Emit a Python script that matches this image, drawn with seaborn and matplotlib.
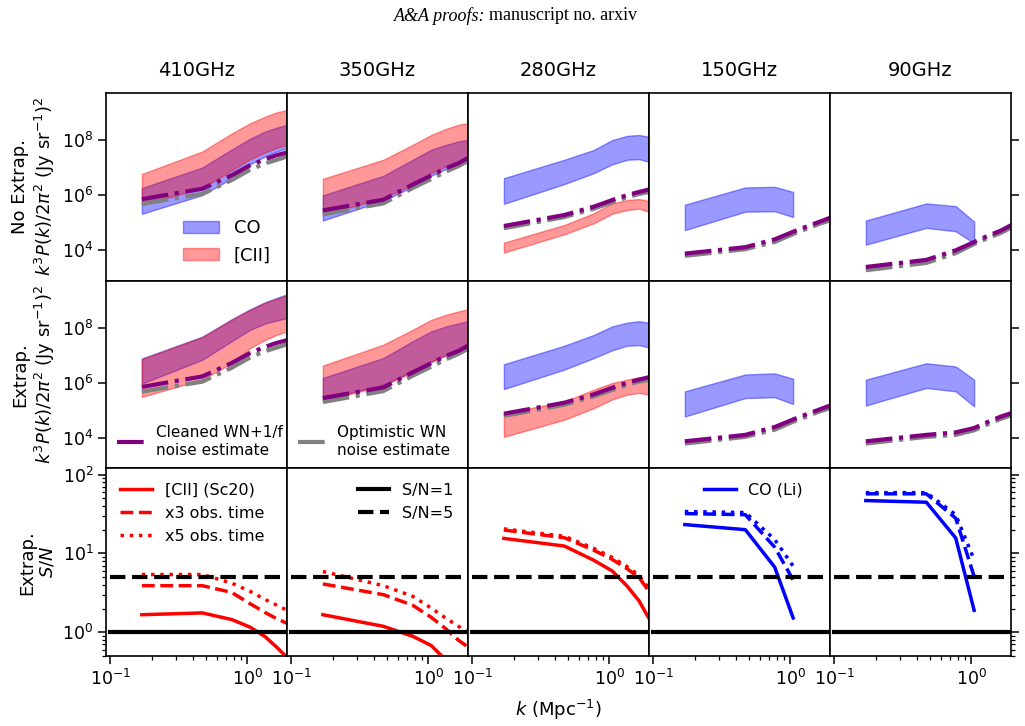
import numpy as np
import matplotlib.pyplot as plt
import seaborn as sns

# k bins (Mpc^-1)
k = [0.17, 0.47, 0.77, 1.05, 1.35, 1.65, 1.95]
freqs = ['410GHz', '350GHz', '280GHz', '150GHz', '90GHz']

# ---- No Extrap. : k^3 P(k)/2pi^2 bands (lo, hi) ----
co_lo_noext = [
    [2.1e5, 1.0e6, 4.0e6, 1.3e7, 2.5e7, 3.8e7, 5.0e7],
    [1.2e5, 6.3e5, 2.0e6, 5.0e6, 8.9e6, 1.3e7, 1.7e7],
    [4.8e5, 2.5e6, 6.2e6, 1.3e7, 1.9e7, 2.0e7, 1.6e7],
    [5.4e4, 2.5e5, 2.6e5, 1.6e5],
    [1.6e4, 6.5e4, 4.9e4, 1.8e4],
]
co_hi_noext = [
    [1.8e6, 1.0e7, 4.5e7, 1.1e8, 2.0e8, 2.8e8, 3.5e8],
    [9.8e5, 5.0e6, 1.9e7, 4.4e7, 6.6e7, 8.7e7, 1.0e8],
    [4.1e6, 1.9e7, 4.3e7, 9.8e7, 1.4e8, 1.5e8, 1.3e8],
    [4.5e5, 1.9e6, 2.0e6, 1.3e6],
    [1.2e5, 5.0e5, 4.0e5, 1.1e5],
]
cii_lo_noext = [
    [4.4e5, 1.8e6, 7.9e6, 2.0e7, 3.5e7, 5.2e7, 6.6e7],
    [1.9e5, 7.9e5, 2.4e6, 6.3e6, 1.1e7, 1.5e7, 1.9e7],
    [8.3e3, 3.8e4, 9.5e4, 2.1e5, 2.9e5, 3.2e5, 2.5e5],
]
cii_hi_noext = [
    [5.8e6, 3.8e7, 1.7e8, 4.0e8, 6.9e8, 1.0e9, 1.2e9],
    [3.9e6, 1.9e7, 6.6e7, 1.5e8, 2.5e8, 3.5e8, 4.0e8],
    [1.9e4, 8.3e4, 2.2e5, 5.0e5, 6.6e5, 7.2e5, 6.2e5],
]

# ---- Extrap. bands ----
co_lo_ext = [
    [9.3e5, 6.8e6, 3.2e7, 8.3e7, 1.4e8, 1.8e8, 2.2e8],
    [2.5e5, 8.5e5, 2.6e6, 5.9e6, 1.0e7, 1.5e7, 1.9e7],
    [5.9e5, 3.0e6, 7.8e6, 1.5e7, 2.2e7, 2.3e7, 1.9e7],
    [6.0e4, 2.8e5, 3.0e5, 1.7e5],
    [1.5e5, 6.5e5, 4.9e5, 1.4e5],
]
co_hi_ext = [
    [7.6e6, 4.7e7, 2.0e8, 4.6e8, 8.3e8, 1.2e9, 1.6e9],
    [1.5e6, 7.9e6, 3.2e7, 7.2e7, 1.1e8, 1.4e8, 1.7e8],
    [4.7e6, 2.2e7, 5.4e7, 1.1e8, 1.5e8, 1.7e8, 1.5e8],
    [4.9e5, 2.0e6, 2.2e6, 1.4e6],
    [1.3e6, 5.1e6, 3.9e6, 1.3e6],
]
cii_lo_ext = [
    [3.1e5, 1.3e6, 5.1e6, 1.8e7, 3.6e7, 5.5e7, 7.2e7],
    [2.2e5, 7.9e5, 2.4e6, 5.6e6, 1.0e7, 1.4e7, 2.0e7],
    [1.1e4, 4.6e4, 1.2e5, 2.5e5, 3.7e5, 4.3e5, 3.7e5],
]
cii_hi_ext = [
    [7.2e6, 4.5e7, 1.9e8, 4.4e8, 7.9e8, 1.1e9, 1.5e9],
    [4.2e6, 2.4e7, 8.3e7, 1.9e8, 2.9e8, 3.8e8, 4.6e8],
    [7.9e4, 2.1e5, 5.6e5, 9.8e5, 1.3e6, 1.6e6, 1.5e6],
]

# ---- noise estimates ----
noise_cleaned = [
    [7.1e5, 1.7e6, 5.2e6, 1.2e7, 2.0e7, 2.8e7, 3.5e7],
    [2.8e5, 6.8e5, 2.4e6, 5.1e6, 9.5e6, 1.4e7, 2.2e7],
    [7.6e4, 1.9e5, 3.8e5, 6.6e5, 1.0e6, 1.3e6, 1.6e6],
    [7.6e3, 1.3e4, 2.5e4, 4.7e4, 7.6e4, 1.1e5, 1.5e5],
    [2.5e3, 4.5e3, 1.0e4, 2.0e4, 3.5e4, 5.2e4, 8.1e4],
]
noise_optimistic = [
    [4.8e5, 1.1e6, 3.5e6, 8.3e6, 1.4e7, 1.9e7, 2.5e7],
    [2.0e5, 5.0e5, 1.8e6, 3.8e6, 7.1e6, 1.1e7, 1.7e7],
    [6.3e4, 1.6e5, 3.2e5, 5.5e5, 8.3e5, 1.1e6, 1.3e6],
    [6.3e3, 1.1e4, 2.0e4, 3.9e4, 6.3e4, 9.3e4, 1.2e5],
    [1.9e3, 3.5e3, 7.9e3, 1.7e4, 2.9e4, 4.3e4, 6.6e4],
]
noise_cleaned_ext90 = [7.6e3, 1.3e4, 1.6e4, 2.3e4, 4.0e4, 6.0e4, 7.9e4]
noise_optimistic_ext90 = [6.3e3, 1.1e4, 1.3e4, 1.9e4, 3.3e4, 5.0e4, 6.6e4]

# ---- Extrap. S/N ----
sn_1x = [
    [1.67, 1.76, 1.45, 1.16, 0.88, 0.64, 0.48],
    [1.67, 1.19, 0.89, 0.68, 0.44, 0.30, 0.20],
    [15.5, 12.4, 8.2, 6.0, 3.85, 2.5, 1.5],
    [23.2, 20.0, 6.7, 1.52],
    [46.8, 44.6, 15.7, 1.9],
]
sn_3x = [
    [3.9, 3.9, 3.2, 2.3, 1.78, 1.48, 1.3],
    [4.1, 3.0, 2.2, 1.55, 1.1, 0.8, 0.65],
    [19.8, 15.8, 11.0, 8.4, 6.4, 4.95, 3.3],
    [32.0, 31.0, 12.0, 4.6],
    [57.0, 57.0, 28.0, 5.1],
]
sn_5x = [
    [5.4, 5.4, 4.2, 3.3, 2.6, 2.2, 1.9],
    [5.9, 3.9, 2.86, 2.03, 1.5, 1.2, 1.0],
    [20.5, 16.5, 11.6, 8.9, 6.8, 5.3, 3.6],
    [34.0, 33.0, 15.0, 6.9],
    [59.0, 59.0, 31.0, 8.3],
]
sn_k_range = [0.1, 2.0]
sn_levels = [1, 5]

plt.rcParams['font.size'] = 12.5
plt.rcParams['axes.linewidth'] = 1.2

fig, axes = plt.subplots(3, 5, figsize=(10.25, 7.26), dpi=100, sharex=True, sharey='row')
fig.subplots_adjust(left=0.1034, right=0.9863, top=0.872, bottom=0.0964, wspace=0, hspace=0)

for c in range(5):
    for r, (co_lo, co_hi, cii_lo, cii_hi) in enumerate([
            (co_lo_noext, co_hi_noext, cii_lo_noext, cii_hi_noext),
            (co_lo_ext, co_hi_ext, cii_lo_ext, cii_hi_ext)]):
        ax = axes[r, c]
        ax.set_xscale('log')
        ax.set_yscale('log')
        n = len(co_lo[c])
        ax.fill_between(k[:n], co_lo[c], co_hi[c], color='blue', alpha=0.4, label='CO')
        if c < 3:
            ax.fill_between(k, cii_lo[c], cii_hi[c], color='red', alpha=0.4, label='[CII]')
        nc = noise_cleaned[c]
        no = noise_optimistic[c]
        if r == 1 and c == 4:
            nc, no = noise_cleaned_ext90, noise_optimistic_ext90
        sns.lineplot(x=k, y=no, ax=ax, color='gray', lw=3, linestyle='-.', legend=False,
                     label='Optimistic WN\nnoise estimate')
        sns.lineplot(x=k, y=nc, ax=ax, color='purple', lw=3, linestyle='-.', legend=False,
                     label='Cleaned WN+1/f\nnoise estimate')

    ax = axes[2, c]
    ax.set_xscale('log')
    ax.set_yscale('log')
    col = 'red' if c < 3 else 'blue'
    n = len(sn_1x[c])
    sns.lineplot(x=k[:n], y=sn_1x[c], ax=ax, color=col, lw=2.5, legend=False,
                 label='[CII] (Sc20)' if c < 3 else 'CO (Li)')
    sns.lineplot(x=k[:n], y=sn_3x[c], ax=ax, color=col, lw=2.5, linestyle='--', legend=False,
                 label='x3 obs. time')
    sns.lineplot(x=k[:n], y=sn_5x[c], ax=ax, color=col, lw=2.5, linestyle=':', legend=False,
                 label='x5 obs. time')
    ax.plot(sn_k_range, [sn_levels[0]] * 2, color='black', lw=3, label='S/N=1')
    ax.plot(sn_k_range, [sn_levels[1]] * 2, color='black', lw=3, ls='--', label='S/N=5')

    axes[0, c].set_title(freqs[c], fontsize=14, pad=12)

for ax in axes.flat:
    ax.set_xlim(0.093, 1.95)
    ax.tick_params(which='major', length=5.5, width=1.1)
    ax.tick_params(which='minor', length=3, width=0.9)
    ax.set_xlabel('')
    ax.set_ylabel('')

for r in range(2):
    axes[r, 0].set_ylim(8e2, 5e9)
    axes[r, 0].set_yticks([1e4, 1e6, 1e8])
    axes[r, 0].yaxis.set_minor_locator(plt.NullLocator())
    for c in range(5):
        axes[r, c].tick_params(axis='x', which='both', bottom=False)
axes[2, 0].set_ylim(0.5, 120)
axes[2, 0].set_yticks([1, 10, 100])
axes[2, 0].set_xticks([0.1, 1])

for r in range(3):
    for c in range(1, 5):
        axes[r, c].tick_params(axis='y', which='both', left=False, labelleft=False)
    axes[r, 4].tick_params(axis='y', which='both', right=True, labelright=False)

lab = '$k^3P(k)/2\\pi^2$ (Jy sr$^{-1}$)$^2$'
axes[0, 0].set_ylabel('No Extrap.\n' + lab, fontsize=13)
axes[1, 0].set_ylabel('Extrap.\n' + lab, fontsize=13)
axes[2, 0].set_ylabel('Extrap.\n$S/N$', fontsize=13)

# legends
h, l = axes[0, 0].get_legend_handles_labels()
axes[0, 0].legend([h[0], h[1]], [l[0], l[1]], loc='lower right', frameon=False, fontsize=13)
h, l = axes[1, 0].get_legend_handles_labels()
axes[1, 0].legend([h[3]], [l[3]], loc='lower left', frameon=False, fontsize=11,
                  handletextpad=0.6, borderaxespad=0.3, labelspacing=0.2)
h, l = axes[1, 1].get_legend_handles_labels()
axes[1, 1].legend([h[2]], [l[2]], loc='lower left', frameon=False, fontsize=11,
                  handletextpad=0.6, borderaxespad=0.3, labelspacing=0.2)
h, l = axes[2, 0].get_legend_handles_labels()
axes[2, 0].legend(h[:3], l[:3], loc='upper left', frameon=False, fontsize=11.5)
h, l = axes[2, 1].get_legend_handles_labels()
axes[2, 1].legend(h[3:5], l[3:5], loc='upper right', frameon=False, fontsize=11.5)
h, l = axes[2, 3].get_legend_handles_labels()
axes[2, 3].legend(h[:1], l[:1], loc='upper right', bbox_to_anchor=(0.93, 1.0), frameon=False, fontsize=11.5)

fig.text(0.545, 0.022, '$k$ (Mpc$^{-1}$)', ha='center', va='center', fontsize=13)

fig.text(0.4735, 0.978, 'A&A proofs:', ha='right', va='center', fontsize=13,
         family='Liberation Serif', style='italic')
fig.text(0.4775, 0.978, 'manuscript no. arxiv', ha='left', va='center', fontsize=13,
         family='Liberation Serif')

fig.savefig('out.png', dpi=100)
